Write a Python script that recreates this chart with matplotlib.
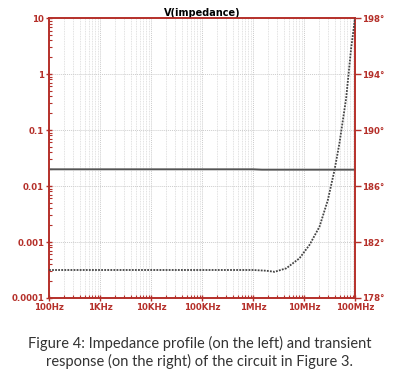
import matplotlib
matplotlib.use('Agg')
import matplotlib.pyplot as plt
from matplotlib.ticker import LogLocator, NullFormatter, FixedLocator, FixedFormatter
import numpy as np

# Impedance magnitude (left axis, ohms)
mag_freq = [100, 1e3, 1e4, 1e5, 1e6, 1.5e6, 1e7, 1e8]
mag_vals = [0.0199, 0.0199, 0.0199, 0.0199, 0.0199, 0.0196, 0.0196, 0.0196]

# Phase (right axis, degrees)
ph_freq = [100, 1e3, 1e4, 1e5, 1e6, 1.8e6, 2.65e6, 4.49e6, 8.17e6, 12.8e6, 20.1e6,
           29.2e6, 39.5e6, 49.5e6, 67e6, 84e6, 100e6]
ph_vals = [180.0, 180.0, 180.0, 180.0, 180.0, 179.95, 179.87, 180.12, 180.84, 181.79,
           183.09, 184.97, 187.11, 189.05, 192.26, 195.84, 198.0]

x_ticks = [1e2, 1e3, 1e4, 1e5, 1e6, 1e7, 1e8]
x_labels = ['100Hz', '1KHz', '10KHz', '100KHz', '1MHz', '10MHz', '100MHz']
y_ticks = [1e-4, 1e-3, 1e-2, 1e-1, 1, 10]
y_labels = ['0.0001', '0.001', '0.01', '0.1', '1', '10']
deg_ticks = [178, 182, 186, 190, 194, 198]
deg_labels = ['178°', '182°', '186°', '190°', '194°', '198°']

red = '#b5302a'

fig = plt.figure(figsize=(4, 3.85), dpi=100)
ax = fig.add_axes([0.1225, 0.226, 0.765, 0.727])

ax.set_xscale('log')
ax.set_yscale('log')
ax.set_xlim(1e2, 1e8)
ax.set_ylim(1e-4, 10)

# grid
ax.xaxis.set_minor_locator(LogLocator(base=10, subs=np.arange(2, 10)))
ax.xaxis.set_minor_formatter(NullFormatter())
ax.yaxis.set_minor_locator(LogLocator(base=10, subs=np.arange(2, 10)))
ax.yaxis.set_minor_formatter(NullFormatter())
ax.grid(True, which='major', axis='both', color='#cccccc', linestyle=(0, (1, 1)), lw=0.7)
ax.grid(True, which='minor', axis='x', color='#d8d8d8', linestyle=(0, (1, 1)), lw=0.6)

ax.plot(mag_freq, mag_vals, color='#555555', lw=1.4, zorder=3)

ax.xaxis.set_major_locator(FixedLocator(x_ticks))
ax.xaxis.set_major_formatter(FixedFormatter(x_labels))
ax.yaxis.set_major_locator(FixedLocator(y_ticks))
ax.yaxis.set_major_formatter(FixedFormatter(y_labels))

for s in ax.spines.values():
    s.set_color(red)
    s.set_linewidth(1.2)
ax.tick_params(which='major', direction='inout', length=5, width=1, color=red,
               labelcolor=red, labelsize=6.2, pad=1)
ax.tick_params(which='minor', direction='in', length=2.5, width=0.8, color=red)
for lab in ax.get_xticklabels() + ax.get_yticklabels():
    lab.set_fontweight('bold')

ax2 = ax.twinx()
ax2.set_ylim(178, 198)
ax2.plot(ph_freq, ph_vals, color='#444444', lw=1.3, linestyle=(0, (1, 0.7)), zorder=3)
ax2.yaxis.set_major_locator(FixedLocator(deg_ticks))
ax2.yaxis.set_major_formatter(FixedFormatter(deg_labels))
ax2.tick_params(axis='y', direction='out', length=4, width=1, color=red,
                labelcolor=red, labelsize=6.2, pad=1)
for lab in ax2.get_yticklabels():
    lab.set_fontweight('bold')
for s in ax2.spines.values():
    s.set_color(red)
    s.set_linewidth(1.2)

ax.set_title('V(impedance)', fontsize=7, fontweight='bold', pad=1.5)

fig.text(0.5, 0.085, 'Figure 4: Impedance profile (on the left) and transient\n'
         'response (on the right) of the circuit in Figure 3.',
         ha='center', va='center', fontsize=10.5, family='Lato', color='#333333',
         linespacing=1.25)

fig.savefig('out.png', dpi=100)
